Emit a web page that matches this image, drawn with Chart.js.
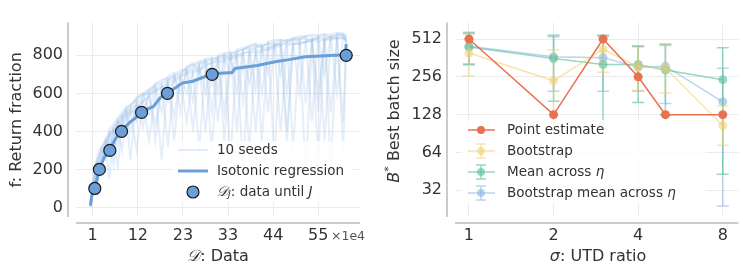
<!DOCTYPE html>
<html>
<head>
<meta charset="utf-8">
<script src="https://cdn.jsdelivr.net/npm/chart.js@4.4.1/dist/chart.umd.min.js"></script>
<style>
  body { margin: 0; background: #fff; width: 743px; height: 272px; overflow: hidden; position: relative; }
  #left { position: absolute; left: 0; top: 0; width: 370px; height: 272px; }
  #right { position: absolute; left: 370px; top: 0; width: 373px; height: 272px; }
</style>
</head>
<body>
<div id="left"><canvas id="return_chart" width="370" height="272"></canvas></div>
<div id="right"><canvas id="batch_chart" width="373" height="272"></canvas></div>
<script>
// left panel: return vs data (x in units of 1e4)
const data_x = [0.5,1,1.5,2,3,4,5,6,7,8,9,10,11.5,13,14.5,16,17.5,19,20.5,22,23.5,25,26.5,28,29.5,31,32.5,34,35.5,37,38.5,40,41.5,43,44.5,46,47.5,49,50.5,52,53.5,55,56.5,58,59.5,61,61.7];
const seed_1 = [15,70,160,230,280,340,150,420,450,480,520,540, 560,420,610,640,650,320,690,710,730,560,760,770, 780,790,350,810,820,830,840,620,850,860,855,870, 880,300,885,890,880,895,700,900,905,910,890];
const seed_2 = [5,110,140,190,300,280,380,410,200,470,500,530, 450,590,600,630,250,670,690,600,720,740,750,400, 770,790,800,780,810,200,830,840,850,500,860,850, 870,880,870,160,880,890,880,900,600,900,880];
const seed_3 = [25,90,180,240,200,350,400,300,460,490,380,520, 580,600,500,650,670,680,350,700,740,760,700,780, 790,600,810,820,400,830,850,860,840,870,250,880, 870,890,880,900,450,900,910,890,905,300,900];
const seed_4 = [10,60,120,180,250,300,330,380,420,300,460,490, 520,560,580,440,620,640,660,680,450,710,720,740, 300,760,770,780,790,800,650,810,820,830,840,400, 850,860,860,870,870,250,880,880,890,890,870];
const seed_5 = [30,130,200,260,320,260,410,440,470,500,530,250, 570,590,620,650,660,690,710,500,740,750,770,780, 650,800,810,250,830,840,850,860,350,870,880,880, 600,890,900,900,910,905,910,200,915,910,900];
const seed_6 = [0,100,130,90,280,320,370,400,430,460,480,510, 300,560,590,610,630,650,480,690,700,720,300,750, 760,770,780,790,800,550,810,820,830,830,840,850, 350,860,860,870,880,870,880,500,890,890,880];
const seed_7 = [20,80,170,220,300,360,290,420,440,480,510,400, 550,580,610,350,650,670,690,700,720,400,750,760, 780,790,500,810,820,830,300,840,850,860,870,700, 880,880,890,550,890,900,890,900,910,900,870];
const seed_8 = [15,90,150,210,220,330,380,410,330,470,490,520, 540,500,590,620,640,560,680,690,710,730,740,600, 770,450,790,800,810,810,820,400,840,840,850,860, 860,870,600,880,880,890,350,890,895,900,880];
const seed_9 = [5,70,140,200,260,310,350,220,450,440,470,500, 530,560,350,610,630,660,670,690,600,720,730,750, 760,780,790,700,800,810,820,830,600,840,850,860, 400,860,870,870,880,600,880,890,890,450,860];
const seed_10 = [25,120,190,250,310,350,390,420,460,400,520,540, 570,600,620,640,500,680,700,720,730,750,760,770, 500,790,800,810,600,830,840,850,860,700,870,880, 880,890,890,900,900,500,910,910,920,915,900];
const seeds = [seed_1, seed_2, seed_3, seed_4, seed_5, seed_6, seed_7, seed_8, seed_9, seed_10];

const iso_x = [0.45,0.74,1.5,2.6,3.7,5.1,6.4,7.9,10.0,11.2,12.7,15.5,17.1,18.9,21.2,22.4,25.0,26.7,29.6,34.4,35.1,40.4,44.7,47.6,51.9,61.5,61.7];
const iso_y = [10,60,100,200,260,305,360,405,450,470,506,530,575,602,635,654,664,678,703,710,731,747,766,776,792,803,860];
const until_x = [1.5,2.6,5.1,7.9,12.7,18.9,29.6,61.7];
const until_y = [100,200,300,400,500,600,700,800];
const data_ticks = [1,11.8,22.6,33.4,44.2,55];
const return_ticks = [0,200,400,600,800];

// right panel: best batch size vs UTD ratio
const utd = [1,2,3,4,5,8];
const point_est = [512,128,512,256,128,128];
const boot = [396,238,423,309,300,105];
const boot_lo = [260,95,279,200,190,73];
const boot_hi = [560,419,545,440,470,150];
const mean_eta = [442,358,321,321,290,243];
const mean_lo = [320,164,99,160,128,43];
const mean_hi = [570,550,550,448,465,437];
const boot_mean = [448,370,364,305,311,162];
const boot_mean_lo = [325,197,197,197,157,24];
const boot_mean_hi = [580,533,540,450,455,300];
const utd_ticks = [1,2,4,8];
const batch_ticks = [32,64,128,256,512];

Chart.defaults.font.family = 'DejaVu Sans';
Chart.defaults.font.size = 16;
Chart.defaults.color = '#333';

const grid_color = '#ebebeb';
const font = (sz, it) => (it ? 'italic ' : '') + sz + 'px "DejaVu Sans"';

// draw text made of several runs (regular / italic / sub / sup)
function drawRuns(ctx, runs, x, y, align) {
  let w = 0;
  runs.forEach(r => { ctx.font = r.font; w += ctx.measureText(r.t).width; });
  let cx = align === 'center' ? x - w / 2 : x;
  ctx.textAlign = 'left';
  ctx.textBaseline = 'middle';
  runs.forEach(r => {
    ctx.font = r.font;
    ctx.fillText(r.t, cx, y + (r.dy || 0));
    cx += ctx.measureText(r.t).width;
  });
}

const offsetSpines = {
  id: 'offsetSpines',
  beforeDraw(chart) {
    const {ctx, chartArea: a} = chart;
    ctx.save();
    ctx.strokeStyle = '#cccccc';
    ctx.lineWidth = 2;
    ctx.beginPath();
    ctx.moveTo(a.left - 8, a.top); ctx.lineTo(a.left - 8, a.bottom);
    ctx.moveTo(a.left, a.bottom + 6); ctx.lineTo(a.right, a.bottom + 6);
    ctx.stroke();
    ctx.restore();
  }
};

const blue = '#6a9fd9';
const seed_color = 'rgba(150,190,232,0.24)';

const returnLegend = {
  id: 'returnLegend',
  afterDraw(chart) {
    const ctx = chart.ctx;
    ctx.save();
    ctx.fillStyle = 'rgba(255,255,255,0.8)';
    ctx.fillRect(172, 141, 180, 62);
    ctx.lineCap = 'butt';
    ctx.strokeStyle = 'rgba(150,190,232,0.4)'; ctx.lineWidth = 1.5;
    ctx.beginPath(); ctx.moveTo(178, 150); ctx.lineTo(208, 150); ctx.stroke();
    ctx.strokeStyle = blue; ctx.lineWidth = 3;
    ctx.beginPath(); ctx.moveTo(178, 171); ctx.lineTo(208, 171); ctx.stroke();
    ctx.fillStyle = blue; ctx.strokeStyle = '#1a1a1a'; ctx.lineWidth = 1.2;
    ctx.beginPath(); ctx.arc(193, 192, 6, 0, Math.PI * 2); ctx.fill(); ctx.stroke();
    ctx.fillStyle = '#333';
    drawRuns(ctx, [{t: '10 seeds', font: font(13.5)}], 217, 150);
    drawRuns(ctx, [{t: 'Isotonic regression', font: font(13.5)}], 217, 171);
    drawRuns(ctx, [
      {t: '𝒟', font: font(13.5, true)},
      {t: 'J', font: font(9.5, true), dy: 3},
      {t: ': data until ', font: font(13.5)},
      {t: 'J', font: font(13.5, true)}
    ], 217, 192);
    // axis title and offset text
    drawRuns(ctx, [{t: '𝒟', font: font(16, true)}, {t: ': Data', font: font(16)}], 218, 257, 'center');
    ctx.fillStyle = '#555';
    drawRuns(ctx, [{t: '×1e4', font: font(12.5)}], 331, 237);
    ctx.restore();
  }
};

const return_sets = [
  {
    label: 'until', data: until_x.map((x, i) => ({x, y: until_y[i]})),
    showLine: false, pointRadius: 6, pointBackgroundColor: blue,
    pointBorderColor: '#1a1a1a', pointBorderWidth: 1.2, order: 0
  },
  {
    label: 'iso', data: iso_x.map((x, i) => ({x, y: iso_y[i]})),
    borderColor: blue, borderWidth: 3, pointRadius: 0, order: 1
  }
];
seeds.forEach((s, k) => return_sets.push({
  label: 'seed ' + (k + 1), data: data_x.map((x, i) => ({x, y: s[i]})),
  borderColor: seed_color, borderWidth: 2, pointRadius: 0, order: 2
}));

new Chart(document.querySelector('#return_chart').getContext('2d'), {
  type: 'line',
  data: {datasets: return_sets},
  plugins: [offsetSpines, returnLegend],
  options: {
    animation: false,
    responsive: false,
    layout: {padding: {top: 5, right: 10, left: 0, bottom: 0}},
    plugins: {legend: {display: false}, tooltip: {enabled: false}},
    scales: {
      x: {
        type: 'linear', min: -3, max: 65,
        afterBuildTicks: s => { s.ticks = data_ticks.map(v => ({value: v})); },
        afterFit: s => { s.height = 55; },
        ticks: {padding: 9, callback: v => Math.round(v), maxRotation: 0},
        grid: {color: grid_color, drawTicks: false},
        border: {display: false}
      },
      y: {
        min: -50, max: 972,
        afterBuildTicks: s => { s.ticks = return_ticks.map(v => ({value: v})); },
        afterFit: s => { s.width = 76; },
        ticks: {padding: 13},
        grid: {color: grid_color, drawTicks: false},
        border: {display: false},
        title: {display: true, text: 'f: Return fraction', padding: {top: 7, bottom: 0}}
      }
    }
  }
});

// right panel
const red = '#e8714f';
const yellow = 'rgba(240,205,110,0.55)';
const green = 'rgba(95,195,158,0.65)';
const lblue = 'rgba(140,182,228,0.6)';

const errorBars = {
  id: 'errorBars',
  beforeDatasetDraw(chart, args) {
    const ds = chart.data.datasets[args.index];
    if (!ds.err_lo) return;
    const xs = chart.scales.x, ys = chart.scales.y, ctx = chart.ctx;
    ctx.save();
    ctx.strokeStyle = ds.borderColor;
    ctx.lineWidth = 1.5;
    ds.data.forEach((p, i) => {
      const px = xs.getPixelForValue(p.x);
      const top = ys.getPixelForValue(ds.err_hi[i]);
      const bot = ys.getPixelForValue(ds.err_lo[i]);
      ctx.beginPath();
      ctx.moveTo(px, top); ctx.lineTo(px, bot);
      ctx.moveTo(px - 6, top); ctx.lineTo(px + 6, top);
      ctx.moveTo(px - 6, bot); ctx.lineTo(px + 6, bot);
      ctx.stroke();
    });
    ctx.restore();
  }
};

const batchLegend = {
  id: 'batchLegend',
  afterDraw(chart) {
    const ctx = chart.ctx;
    const ox = -370;
    const rows = [
      {c: red, err: false, runs: [{t: 'Point estimate', font: font(13.5)}]},
      {c: yellow, err: true, runs: [{t: 'Bootstrap', font: font(13.5)}]},
      {c: green, err: true, runs: [{t: 'Mean across ', font: font(13.5)}, {t: 'η', font: font(13.5, true)}]},
      {c: lblue, err: true, runs: [{t: 'Bootstrap mean across ', font: font(13.5)}, {t: 'η', font: font(13.5, true)}]}
    ];
    ctx.save();
    ctx.fillStyle = 'rgba(255,255,255,0.8)';
    ctx.fillRect(461 + ox, 120, 245, 84);
    rows.forEach((r, k) => {
      const y = 130 + k * 21;
      ctx.strokeStyle = r.c; ctx.fillStyle = r.c; ctx.lineWidth = 1.5;
      ctx.beginPath(); ctx.moveTo(468 + ox, y); ctx.lineTo(495 + ox, y); ctx.stroke();
      if (r.err) {
        ctx.beginPath();
        ctx.moveTo(481 + ox, y - 7); ctx.lineTo(481 + ox, y + 7);
        ctx.moveTo(476 + ox, y - 7); ctx.lineTo(486 + ox, y - 7);
        ctx.moveTo(476 + ox, y + 7); ctx.lineTo(486 + ox, y + 7);
        ctx.stroke();
      }
      ctx.beginPath(); ctx.arc(481 + ox, y, 4, 0, Math.PI * 2); ctx.fill();
      ctx.fillStyle = '#333';
      drawRuns(ctx, r.runs, 507 + ox, y);
    });
    // axis titles
    drawRuns(ctx, [{t: 'σ', font: font(16, true)}, {t: ': UTD ratio', font: font(16)}], 598 + ox, 257, 'center');
    ctx.translate(25, 111);
    ctx.rotate(-Math.PI / 2);
    drawRuns(ctx, [
      {t: 'B', font: font(16, true)},
      {t: '*', font: font(11), dy: -6},
      {t: ' Best batch size', font: font(16)}
    ], 0, 0, 'center');
    ctx.restore();
  }
};

const pts = arr => utd.map((x, i) => ({x, y: arr[i]}));

new Chart(document.querySelector('#batch_chart').getContext('2d'), {
  type: 'line',
  data: {
    datasets: [
      {label: 'Point estimate', data: pts(point_est), borderColor: red, backgroundColor: red,
        borderWidth: 1.5, pointRadius: 4.5, pointBorderWidth: 0},
      {label: 'Bootstrap', data: pts(boot), err_lo: boot_lo, err_hi: boot_hi, borderColor: yellow,
        backgroundColor: yellow, borderWidth: 1.5, pointRadius: 4.5, pointBorderWidth: 0},
      {label: 'Mean across eta', data: pts(mean_eta), err_lo: mean_lo, err_hi: mean_hi, borderColor: green,
        backgroundColor: green, borderWidth: 1.5, pointRadius: 4.5, pointBorderWidth: 0},
      {label: 'Bootstrap mean across eta', data: pts(boot_mean), err_lo: boot_mean_lo, err_hi: boot_mean_hi,
        borderColor: lblue, backgroundColor: lblue, borderWidth: 1.5, pointRadius: 4.5, pointBorderWidth: 0}
    ]
  },
  plugins: [offsetSpines, errorBars, batchLegend],
  options: {
    animation: false,
    responsive: false,
    layout: {padding: {top: 5, right: 3, left: 0, bottom: 0}},
    plugins: {legend: {display: false}, tooltip: {enabled: false}},
    scales: {
      x: {
        type: 'logarithmic', min: 0.892, max: 9.1,
        afterBuildTicks: s => { s.ticks = utd_ticks.map(v => ({value: v})); },
        afterFit: s => { s.height = 55; },
        ticks: {padding: 9, callback: v => String(v), maxRotation: 0, autoSkip: false},
        grid: {color: grid_color, drawTicks: false},
        border: {display: false}
      },
      y: {
        type: 'logarithmic', min: 19.6, max: 692,
        afterBuildTicks: s => { s.ticks = batch_ticks.map(v => ({value: v})); },
        afterFit: s => { s.width = 85; },
        ticks: {padding: 13, callback: v => String(v), autoSkip: false},
        grid: {color: grid_color, drawTicks: false},
        border: {display: false}
      }
    }
  }
});
</script>
</body>
</html>
